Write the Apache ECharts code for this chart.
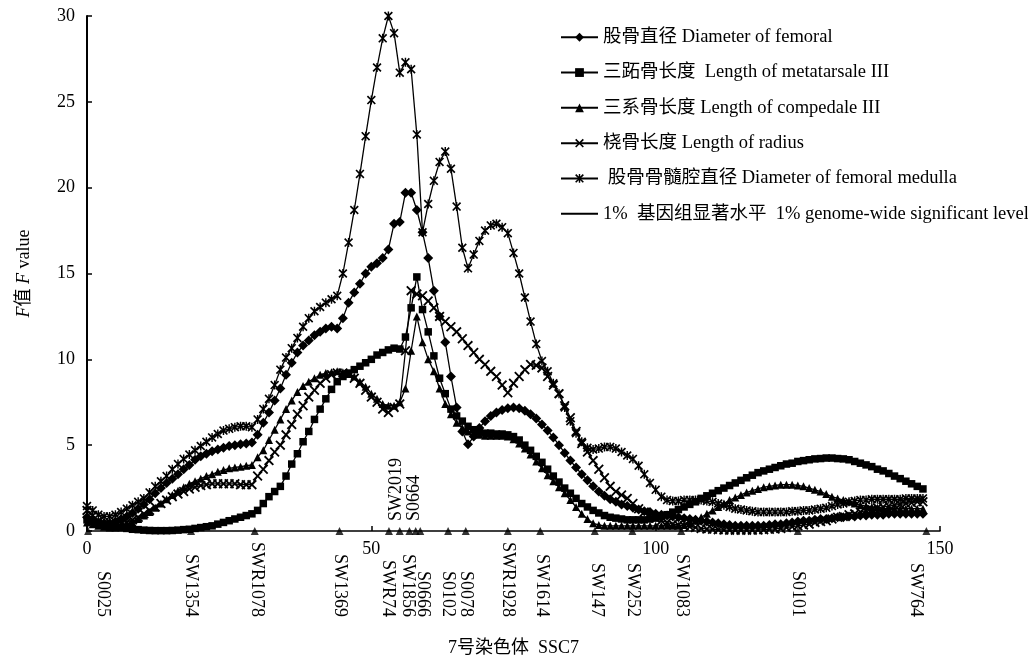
<!DOCTYPE html>
<html>

<head>
  <meta charset="utf-8" />
  <title>SSC7 F value</title>
  <script src="https://cdn.jsdelivr.net/npm/echarts@6.0.0/dist/echarts.min.js"></script>
  <style>
    html, body { margin: 0; padding: 0; background: #fff; }
    #main { width: 1028px; height: 662px; }
  </style>
</head>

<body>
  <div id="main"></div>
  <script type="text/javascript">
    var myChart = echarts.init(document.getElementById('main'));

    // F values, one per cM from 0 cM
    var medulla = [
      1.45, 1.2, 0.95, 0.85, 0.85, 0.95, 1.1, 1.3, 1.5, 1.7,
      1.9, 2.25, 2.6, 2.9, 3.2, 3.6, 3.9, 4.2, 4.45, 4.7,
      4.95, 5.2, 5.45, 5.65, 5.85, 5.95, 6.05, 6.1, 6.1, 6.05,
      6.5, 7.1, 7.7, 8.5, 9.4, 10.1, 10.65, 11.25, 11.9, 12.4,
      12.8, 13.05, 13.3, 13.5, 13.7, 15.0, 16.8, 18.7, 20.8, 23.0,
      25.1, 27.0, 28.7, 30.0, 29.0, 26.7, 27.3, 26.9, 23.1, 17.4,
      19.05, 20.4, 21.5, 22.1, 21.1, 18.9, 16.5, 15.3, 16.1, 16.9,
      17.5, 17.8, 17.9, 17.7, 17.35, 16.2, 15.0, 13.6, 12.2, 10.9,
      9.9, 9.3, 8.6, 8.0, 7.2, 6.4, 5.7, 5.2, 4.85, 4.75,
      4.8, 4.9, 4.9, 4.8, 4.6, 4.4, 4.2, 3.8, 3.3, 2.8,
      2.4, 2.0, 1.8, 1.75, 1.75, 1.8, 1.8, 1.8, 1.8, 1.75,
      1.7, 1.6, 1.5, 1.4, 1.3, 1.25, 1.2, 1.15, 1.1, 1.1,
      1.1, 1.1, 1.1, 1.1, 1.15, 1.15, 1.2, 1.2, 1.25, 1.3,
      1.35, 1.45, 1.55, 1.6, 1.7, 1.75, 1.8, 1.8, 1.85, 1.85,
      1.85, 1.85, 1.85, 1.85, 1.9, 1.9, 1.9, 1.9
    ];
    var radius = [
      1.2, 0.9, 0.6, 0.4, 0.3, 0.3, 0.4, 0.5, 0.65, 0.8,
      1.0, 1.2, 1.4, 1.6, 1.8, 2.0, 2.15, 2.3, 2.45, 2.55,
      2.65, 2.7, 2.75, 2.75, 2.75, 2.75, 2.75, 2.7, 2.7, 2.7,
      3.2, 3.6, 4.1, 4.6, 5.0, 5.6, 6.2, 6.8, 7.3, 7.8,
      8.2, 8.6, 8.9, 9.1, 9.2, 9.2, 9.1, 8.9, 8.6, 8.2,
      7.8, 7.5, 7.1, 6.9, 7.2, 7.4, 10.5, 14.0, 13.8, 13.7,
      13.4, 13.0, 12.5, 12.2, 11.9, 11.6, 11.2, 10.8, 10.4, 10.0,
      9.7, 9.3, 9.0, 8.5, 8.05, 8.6, 9.0, 9.4, 9.7, 9.65,
      9.5, 9.0, 8.5, 8.0, 7.3, 6.6, 5.8, 5.1, 4.6, 4.1,
      3.6, 3.1, 2.6, 2.3, 2.1, 1.9, 1.6, 1.3, 1.1, 0.9,
      0.75, 0.6, 0.5, 0.4, 0.35, 0.3, 0.25, 0.2, 0.15, 0.12,
      0.1, 0.08, 0.06, 0.05, 0.05, 0.05, 0.05, 0.05, 0.06, 0.08,
      0.1, 0.12, 0.15, 0.2, 0.25, 0.3, 0.35, 0.4, 0.5, 0.55,
      0.6, 0.7, 0.8, 0.85, 0.95, 1.0, 1.1, 1.2, 1.25, 1.35,
      1.4, 1.45, 1.5, 1.55, 1.6, 1.65, 1.7, 1.7
    ];
    var femoral = [
      0.8, 0.6, 0.5, 0.45, 0.45, 0.55, 0.7, 0.85, 1.05, 1.3,
      1.55, 1.85, 2.2, 2.5, 2.8, 3.05, 3.3, 3.6, 3.85, 4.15,
      4.35, 4.5, 4.65, 4.75, 4.85, 4.95, 5.0, 5.05, 5.1, 5.15,
      5.6, 6.3, 6.9, 7.6, 8.3, 9.1, 9.8, 10.4, 10.8, 11.1,
      11.4, 11.6, 11.8, 11.9, 11.8, 12.4, 13.3, 13.9, 14.4, 15.0,
      15.4, 15.6, 15.9, 16.4, 17.9, 18.0, 19.7, 19.7, 18.7, 17.4,
      15.9, 14.0, 12.5, 11.0, 9.0, 7.2, 5.8, 5.05, 5.5, 6.0,
      6.4, 6.7, 6.9, 7.05, 7.15, 7.2, 7.15, 7.0, 6.8, 6.55,
      6.2, 5.85, 5.45, 5.0, 4.55, 4.1, 3.7, 3.3, 2.95, 2.6,
      2.3, 2.05, 1.85, 1.7, 1.55, 1.45, 1.35, 1.25, 1.15, 1.1,
      1.0, 0.95, 0.9, 0.85, 0.8, 0.75, 0.7, 0.65, 0.6, 0.55,
      0.5, 0.45, 0.4, 0.35, 0.3, 0.3, 0.3, 0.3, 0.3, 0.3,
      0.35, 0.4, 0.4, 0.45, 0.5, 0.55, 0.6, 0.6, 0.65, 0.7,
      0.7, 0.75, 0.8, 0.8, 0.85, 0.85, 0.9, 0.9, 0.95, 0.95,
      0.95, 1.0, 1.0, 1.0, 1.0, 1.0, 1.0, 1.0
    ];
    var metatarsale = [
      0.65, 0.55, 0.45, 0.35, 0.3, 0.25, 0.2, 0.15, 0.1, 0.08,
      0.05, 0.03, 0.02, 0.02, 0.02, 0.03, 0.05, 0.08, 0.1, 0.15,
      0.2, 0.25, 0.3, 0.4, 0.5, 0.6, 0.7, 0.8, 0.9, 1.0,
      1.2, 1.6, 2.0, 2.3, 2.6, 3.2, 3.9, 4.5, 5.2, 5.8,
      6.5, 7.1, 7.7, 8.25, 8.7, 9.0, 9.2, 9.4, 9.6, 9.8,
      10.0, 10.25, 10.4, 10.55, 10.65, 10.6, 11.3, 13.0, 14.8, 12.9,
      11.6, 10.2, 8.9, 8.0, 7.1, 6.7, 6.4, 6.1, 5.9, 5.8,
      5.7, 5.7, 5.65, 5.65, 5.6, 5.5, 5.3, 5.0, 4.7, 4.35,
      4.0, 3.6, 3.2, 2.85, 2.5, 2.2, 1.9, 1.6, 1.4, 1.2,
      1.05, 0.9, 0.8, 0.75, 0.7, 0.65, 0.65, 0.65, 0.65, 0.7,
      0.75, 0.85, 0.95, 1.1, 1.25, 1.4, 1.55, 1.7, 1.9, 2.05,
      2.2, 2.35, 2.5, 2.65, 2.8, 2.95, 3.1, 3.25, 3.4, 3.5,
      3.6, 3.7, 3.8, 3.9, 3.95, 4.05, 4.1, 4.15, 4.2, 4.22,
      4.25, 4.25, 4.22, 4.2, 4.15, 4.05, 3.95, 3.85, 3.75, 3.6,
      3.5, 3.35, 3.2, 3.05, 2.9, 2.75, 2.6, 2.45
    ];
    var compedale = [
      0.5, 0.4, 0.3, 0.25, 0.2, 0.2, 0.25, 0.35, 0.5, 0.7,
      0.9, 1.1, 1.35, 1.6, 1.85, 2.1, 2.35, 2.55, 2.75, 2.9,
      3.05, 3.2, 3.3, 3.45, 3.55, 3.65, 3.7, 3.75, 3.8, 3.85,
      4.3, 4.7, 5.3, 5.9, 6.5, 7.1, 7.6, 8.1, 8.45, 8.7,
      8.9, 9.1, 9.2, 9.25, 9.3, 9.25, 9.15, 9.0, 8.7, 8.4,
      8.0, 7.7, 7.4, 7.3, 7.3, 7.5, 8.3, 10.5, 12.5, 11.0,
      10.0, 9.3, 8.3, 7.4, 6.8, 6.3, 6.0, 5.8, 5.65, 5.6,
      5.55, 5.55, 5.55, 5.55, 5.5, 5.35, 5.1, 4.8, 4.45, 4.05,
      3.65, 3.25, 2.9, 2.55, 2.2, 1.8, 1.4, 1.0, 0.7, 0.45,
      0.35, 0.3, 0.3, 0.3, 0.3, 0.3, 0.3, 0.3, 0.3, 0.3,
      0.3, 0.3, 0.3, 0.3, 0.3, 0.35, 0.45, 0.6, 0.8, 1.0,
      1.2, 1.4, 1.6, 1.8, 1.95, 2.1, 2.25, 2.35, 2.45, 2.55,
      2.6, 2.65, 2.7, 2.7, 2.7, 2.65, 2.6, 2.5, 2.4, 2.3,
      2.15, 2.0, 1.9, 1.8, 1.7, 1.6, 1.5, 1.45, 1.4, 1.35,
      1.3, 1.3, 1.3, 1.3, 1.3, 1.3, 1.3, 1.3
    ];

    // microsatellite markers on the chromosome (cM)
    var markerPos = [0.2, 18.3, 29.5, 44.4, 53.1, 55.0, 56.7, 57.8, 58.6, 63.5, 66.6, 74.0, 79.7, 89.3, 95.9, 104.5, 125.0, 147.6];
    // marker names written below the axis, and where their text sits
    var lowNames = ['S0025', 'SW1354', 'SWR1078', 'SW1369', 'SWR74', 'SW1856', 'S0666', 'S0102', 'S0078', 'SWR1928', 'SW1614', 'SW147', 'SW252', 'SW1083', 'S0101', 'SW764'];
    var lowPos = [2.8, 18.3, 29.8, 44.4, 52.9, 56.4, 59.0, 63.4, 66.6, 74.0, 79.9, 89.6, 95.9, 104.5, 125.0, 145.8];
    // names written above the axis
    var upNames = ['SW2019', 'S0664'];
    var upPos = [54.4, 57.6];

    var legendNames = [
      '股骨直径 Diameter of femoral',
      '三跖骨长度  Length of metatarsale III',
      '三系骨长度 Length of compedale III',
      '桡骨长度 Length of radius',
      ' 股骨骨髓腔直径 Diameter of femoral medulla',
      '1%  基因组显著水平  1% genome-wide significant level'
    ];

    var ff = "'Liberation Serif', 'Times New Roman', 'Noto Sans CJK SC', serif";
    var xPath = 'path://M0,1.3L1.3,0L5,3.7L8.7,0L10,1.3L6.3,5L10,8.7L8.7,10L5,6.3L1.3,10L0,8.7L3.7,5Z';
    var starPath = 'path://M0,1.3L1.3,0L5,3.7L8.7,0L10,1.3L6.3,5L10,8.7L8.7,10L5,6.3L1.3,10L0,8.7L3.7,5Z M4.2,0L5.8,0L5.8,10L4.2,10Z';

    function toPairs(vals) {
      return vals.map(function (v, i) { return [i, v]; });
    }
    function nameAt(posList, nameList, v) {
      for (var i = 0; i < posList.length; i++) {
        if (Math.abs(posList[i] - v) < 1e-6) return nameList[i];
      }
      return '';
    }

    function lineSeries(name, vals, symbol, size) {
      return {
        name: name,
        type: 'line',
        data: toPairs(vals),
        symbol: symbol,
        symbolSize: size,
        lineStyle: { color: '#000', width: 1.3 },
        itemStyle: { color: '#000', borderWidth: 0 },
        emphasis: { disabled: true }
      };
    }

    // legend: the threshold entry is a plain line, no marker
    var legendData = legendNames.map(function (n, i) {
      return i === 5 ? { name: n, itemStyle: { opacity: 0 } } : { name: n };
    });

    var option = {
      backgroundColor: '#fff',
      animation: false,
      grid: { left: 87, right: 88, top: 16, bottom: 130 },
      legend: {
        data: legendData,
        orient: 'vertical',
        left: 555,
        top: 23,
        itemWidth: 37,
        itemHeight: 11,
        itemGap: 16.8,
        textStyle: { fontFamily: ff, fontSize: 18.5, color: '#000', lineHeight: 18 }
      },
      xAxis: [{
        type: 'value',
        min: 0,
        max: 150,
        interval: 50,
        name: '7号染色体  SSC7',
        nameLocation: 'middle',
        nameGap: 108,
        nameTextStyle: { fontFamily: ff, fontSize: 18, color: '#000' },
        axisLine: { lineStyle: { color: '#000', width: 1.5 } },
        axisTick: { inside: true, length: 5, lineStyle: { color: '#000', width: 1.5 } },
        axisLabel: { color: '#000', fontFamily: ff, fontSize: 18, margin: 9 },
        splitLine: { show: false }
      }, {
        type: 'value',
        min: 0,
        max: 150,
        position: 'bottom',
        axisLine: { show: false },
        axisTick: { show: false },
        splitLine: { show: false },
        axisLabel: {
          customValues: lowPos,
          formatter: function (v) { return nameAt(lowPos, lowNames, v); },
          rotate: -90,
          align: 'right',
          verticalAlign: 'middle',
          margin: 86,
          color: '#000',
          fontFamily: ff,
          fontSize: 18
        }
      }, {
        type: 'value',
        min: 0,
        max: 150,
        position: 'bottom',
        axisLine: { show: false },
        axisTick: { show: false },
        splitLine: { show: false },
        axisLabel: {
          inside: true,
          customValues: upPos,
          formatter: function (v) { return nameAt(upPos, upNames, v); },
          rotate: 90,
          align: 'left',
          verticalAlign: 'middle',
          margin: 10,
          color: '#000',
          fontFamily: ff,
          fontSize: 18
        }
      }],
      yAxis: {
        type: 'value',
        min: 0,
        max: 30,
        interval: 5,
        name: '{i|F}值 {i|F} value',
        nameLocation: 'middle',
        nameGap: 54,
        nameTextStyle: {
          fontFamily: ff, fontSize: 18, color: '#000',
          rich: { i: { fontStyle: 'italic', fontFamily: ff, fontSize: 18, color: '#000' } }
        },
        axisLine: { show: true, lineStyle: { color: '#000', width: 2 } },
        axisTick: { show: true, inside: true, length: 5, lineStyle: { color: '#000', width: 1.5 } },
        axisLabel: { color: '#000', fontFamily: ff, fontSize: 18, margin: 12 },
        splitLine: { show: false }
      },
      series: [
        lineSeries(legendNames[0], femoral, 'diamond', 10),
        lineSeries(legendNames[1], metatarsale, 'rect', 7.5),
        lineSeries(legendNames[2], compedale, 'triangle', 8),
        lineSeries(legendNames[3], radius, xPath, 10),
        lineSeries(legendNames[4], medulla, starPath, 9),
        {
          name: legendNames[5],
          type: 'line',
          data: [],
          symbol: 'none',
          lineStyle: { color: '#000', width: 1.5 },
          itemStyle: { color: '#000' }
        },
        {
          name: 'markers',
          type: 'scatter',
          data: markerPos.map(function (p) { return [p, 0]; }),
          symbol: 'triangle',
          symbolSize: 8,
          clip: false,
          silent: true,
          itemStyle: { color: '#000' }
        }
      ]
    };

    myChart.setOption(option);
  </script>
</body>

</html>
